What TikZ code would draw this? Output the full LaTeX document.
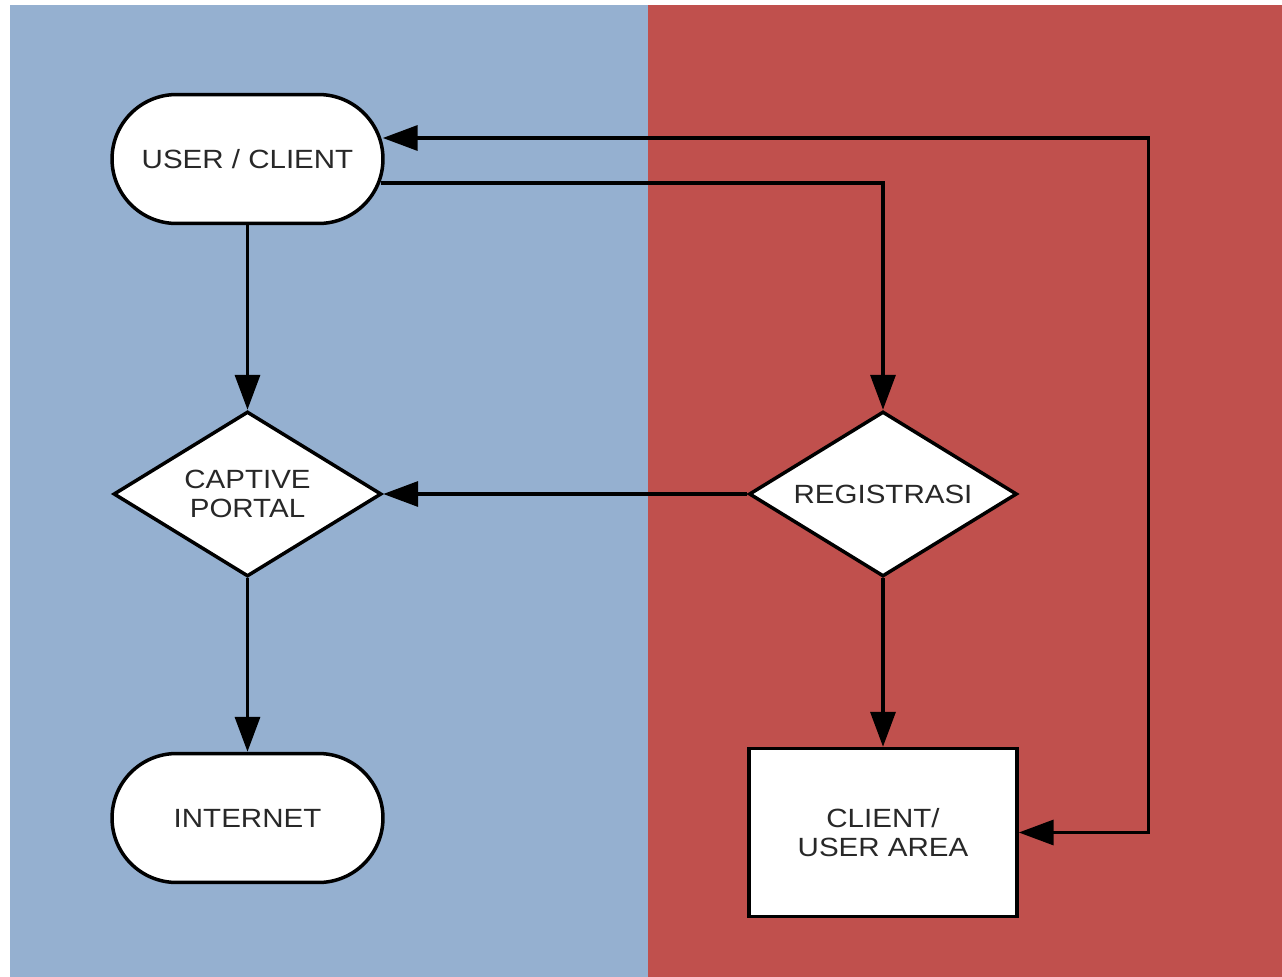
\documentclass[tikz,border=0pt]{standalone}
\usepackage{fontspec}
\setmainfont{Liberation Sans}[FakeStretch=1.12]
\usetikzlibrary{shapes.geometric,shapes.misc,arrows.meta,calc}
\definecolor{bluebg}{RGB}{149,176,208}
\definecolor{redbg}{RGB}{192,80,77}
\definecolor{txt}{RGB}{40,40,40}
\tikzset{
  base/.style={draw=black, fill=white, line width=0.07cm, inner sep=0pt,
    text=txt, align=center, font=\fontsize{15pt}{16.6pt}\selectfont},
  terminal/.style={base, rounded rectangle, minimum width=5.42cm, minimum height=2.58cm},
  decision/.style={base, diamond, aspect=1.61, minimum width=5.36cm, minimum height=3.3cm},
  process/.style={base, rectangle, minimum width=5.36cm, minimum height=3.36cm},
  arr/.style={line width=0.07cm, -{Triangle[length=0.7cm,width=0.5cm]}},
  biarr/.style={line width=0.07cm, {Triangle[length=0.7cm,width=0.5cm]}-{Triangle[length=0.7cm,width=0.5cm]}}
}
\begin{document}
\begin{tikzpicture}[x=0.02cm, y=-0.02cm]
\useasboundingbox (0,0) rectangle (1282,977);
\fill[white] (0,0) rectangle (1282,977);
\fill[bluebg] (10,5) rectangle (648,977);
\fill[redbg] (648,5) rectangle (1282,977);

\node[terminal] (user) at (247.5,159) {USER / CLIENT};
\node[decision] (captive) at (247.5,494) {CAPTIVE\\PORTAL};
\node[terminal] (internet) at (247.5,818) {INTERNET};
\node[decision] (reg) at (883,494) {REGISTRASI};
\node[process] (area) at (883,832.5) {CLIENT/\\USER AREA};

\draw[arr] (user.south) -- (captive.north);
\draw[arr] ($(user.east)+(-4,24)$) -| (reg.north);
\draw[arr] (reg.west) -- (captive.east);
\draw[arr] (captive.south) -- (internet.north);
\draw[arr] (reg.south) -- (area.north);
\draw[biarr] ($(user.east)+(-2,-21)$) -- ++(766,0) |- (area.east);
\end{tikzpicture}
\end{document}
